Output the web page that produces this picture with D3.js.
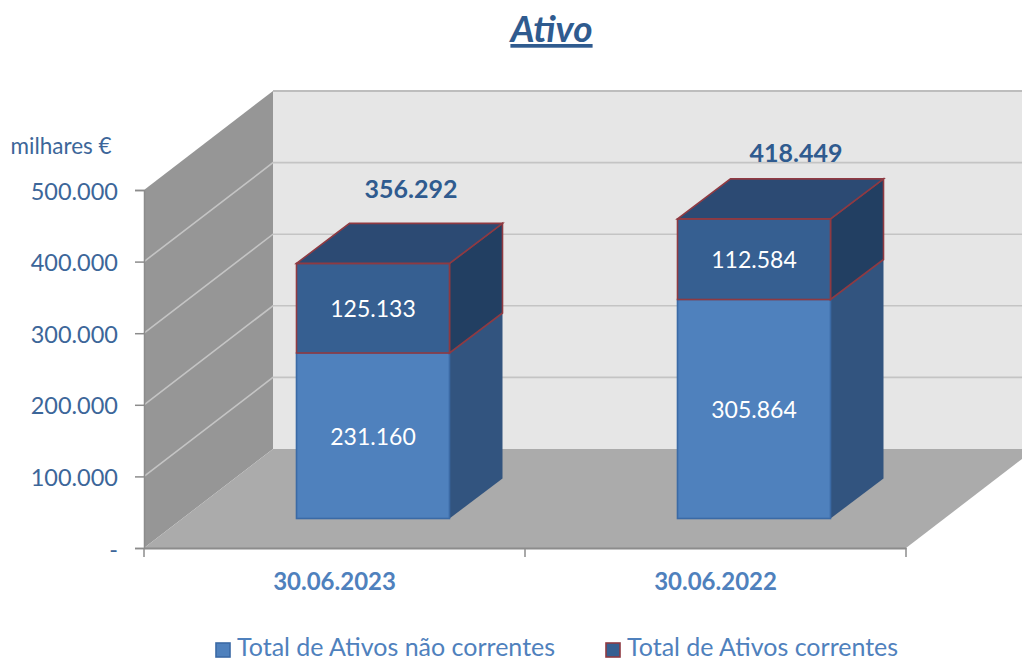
<!DOCTYPE html>
<html>
<head>
<meta charset="utf-8">
<script src="https://cdn.jsdelivr.net/npm/d3@7"></script>
<style>
  html, body { margin: 0; padding: 0; background: #fff; }
  svg { display: block; font-family: Lato, "Open Sans", sans-serif; }
</style>
</head>
<body>
<div id="chart"></div>
<script>
const categories = ['30.06.2023', '30.06.2022'];
const naoCorrentes = [231160, 305864];
const correntes = [125133, 112584];
const totals = [356292, 418449];
const seriesNames = ['Total de Ativos não correntes', 'Total de Ativos correntes'];
const yTicks = [0, 100000, 200000, 300000, 400000, 500000];

const width = 1022, height = 661;
// 3d look: every thing is offset from the front plane by these
const wallDx = 129, wallDy = -99;
const barInsetDx = 38.5, barInsetDy = -29.5;
const barDx = 53, barDy = -40;
const barW = 153;

const svg = d3.select('#chart').append('svg')
  .attr('width', width)
  .attr('height', height);

const x = d3.scaleBand().domain(categories).range([144, 906]);
const y = d3.scaleLinear().domain([0, 500000]).range([548, 190]);
const fmt = d => d === 0 ? '-' : d3.format(',')(d).replace(/,/g, '.');
const poly = pts => 'M' + pts.map(p => p.join(',')).join('L') + 'Z';

svg.append('text')
  .attr('x', 551.5).attr('y', 42)
  .attr('text-anchor', 'middle')
  .attr('font-size', 37).attr('font-weight', 700).attr('font-style', 'italic')
  .attr('text-decoration', 'underline')
  .attr('fill', '#2f5b8f')
  .text('Ativo');

const x0 = x.range()[0], x1 = x.range()[1];
const yTop = y(500000), yBase = y(0);

// back wall
svg.append('path')
  .attr('d', poly([[x0 + wallDx, yTop + wallDy], [width, yTop + wallDy], [width, yBase + wallDy], [x0 + wallDx, yBase + wallDy]]))
  .attr('fill', '#e6e6e6');
svg.append('line')
  .attr('x1', x0 + wallDx).attr('x2', width)
  .attr('y1', yTop + wallDy).attr('y2', yTop + wallDy)
  .attr('stroke', '#bdbdbd').attr('stroke-width', 2);

// left wall
svg.append('path')
  .attr('d', poly([[x0, yTop], [x0 + wallDx, yTop + wallDy], [x0 + wallDx, yBase + wallDy], [x0, yBase]]))
  .attr('fill', '#969696');

// floor
svg.append('path')
  .attr('d', poly([[x0, yBase], [x0 + wallDx, yBase + wallDy], [x1 + wallDx, yBase + wallDy], [x1, yBase]]))
  .attr('fill', '#ababab');

// grid lines, wall and side
const grid = svg.append('g').attr('fill', 'none').attr('stroke', '#c4c4c4').attr('stroke-width', 1.6);
yTicks.slice(1, 5).forEach(t => {
  grid.append('path').attr('d', 'M' + x0 + ',' + y(t) + 'L' + (x0 + wallDx) + ',' + (y(t) + wallDy) + 'L' + width + ',' + (y(t) + wallDy));
});

// stacked bars
const stackData = categories.map((c, i) => ({ cat: c, nao: naoCorrentes[i], cor: correntes[i] }));
const stacked = d3.stack().keys(['nao', 'cor'])(stackData);
const faces = [
  { front: '#4f81bd', side: '#32547f', top: '#2c4a73', stroke: '#3b6aa5', sideStroke: 'none' },
  { front: '#365f91', side: '#223f62', top: '#2c4a73', stroke: '#8f3a42', sideStroke: '#8f3a42' }
];

stacked.forEach((s, si) => {
  const st = faces[si];
  const g = svg.append('g').attr('class', 'series');
  s.forEach(d => {
    const left = x(d.data.cat) + (x.bandwidth() - barW) / 2 + barInsetDx;
    const right = left + barW;
    const yb = y(d[0]) + barInsetDy, yt = y(d[1]) + barInsetDy;
    // side
    g.append('path')
      .attr('d', poly([[right, yb], [right + barDx, yb + barDy], [right + barDx, yt + barDy], [right, yt]]))
      .attr('fill', st.side).attr('stroke', st.sideStroke).attr('stroke-width', 1.6);
    // front
    g.append('rect')
      .attr('x', left).attr('y', yt).attr('width', barW).attr('height', yb - yt)
      .attr('fill', st.front).attr('stroke', st.stroke).attr('stroke-width', 1.6);
    // only top segment shows its lid
    if (si === stacked.length - 1) {
      g.append('path')
        .attr('d', poly([[left, yt], [left + barDx, yt + barDy], [right + barDx, yt + barDy], [right, yt]]))
        .attr('fill', st.top).attr('stroke', st.stroke).attr('stroke-width', 1.6);
    }
    g.append('text')
      .attr('x', left + barW / 2).attr('y', (yb + yt) / 2 + 0.5)
      .attr('dy', '0.36em').attr('text-anchor', 'middle')
      .attr('font-size', 23).attr('fill', '#fff')
      .text(fmt(d[1] - d[0]));
  });
});

// totals above the bars
svg.append('g').selectAll('text').data(categories).join('text')
  .attr('x', (c, i) => x(c) + x.bandwidth() / 2 + barInsetDx + (i === 0 ? 38 : 42))
  .attr('y', (c, i) => y(totals[i]) + barInsetDy - (i === 0 ? 74.5 : 66))
  .attr('dy', '0.36em').attr('text-anchor', 'middle')
  .attr('font-size', 25).attr('font-weight', 700).attr('fill', '#2f5b8f')
  .text((c, i) => fmt(totals[i]));

// y axis
const yAxis = svg.append('g')
  .attr('transform', 'translate(' + x0 + ',0)')
  .call(d3.axisLeft(y).tickValues(yTicks).tickFormat(fmt).tickSize(9).tickPadding(17));
yAxis.select('.domain').attr('stroke', '#8c8c8c').attr('stroke-width', 1.5);
yAxis.selectAll('.tick line').attr('stroke', '#8c8c8c').attr('stroke-width', 1.5);
yAxis.selectAll('.tick text')
  .attr('y', 1.5)
  .attr('font-size', 23.5).attr('font-family', 'Lato').attr('fill', '#3c6699');

svg.append('text')
  .attr('x', 10.5).attr('y', 154)
  .attr('font-size', 22.5).attr('fill', '#3c6699')
  .text('milhares €');

// x axis, labels on band centres and ticks on band edges
const xAxis = svg.append('g')
  .attr('transform', 'translate(0,' + yBase + ')')
  .call(d3.axisBottom(x).tickSize(0).tickPadding(25));
xAxis.select('.domain').attr('stroke', '#8c8c8c').attr('stroke-width', 2);
xAxis.selectAll('.tick text')
  .attr('font-size', 24).attr('font-weight', 700).attr('font-family', 'Lato').attr('fill', '#4f81bd');
xAxis.selectAll('.edge').data([x0, x(categories[1]), x1]).join('line')
  .attr('class', 'edge')
  .attr('x1', d => d).attr('x2', d => d)
  .attr('y1', 0).attr('y2', 9)
  .attr('stroke', '#8c8c8c').attr('stroke-width', 1.5);

// legend
const legendX = [216, 606];
const legend = svg.append('g').selectAll('g').data(seriesNames).join('g')
  .attr('transform', (d, i) => 'translate(' + legendX[i] + ',643)');
legend.append('rect')
  .attr('width', 14).attr('height', 14)
  .attr('fill', (d, i) => faces[i].front)
  .attr('stroke', (d, i) => faces[i].stroke).attr('stroke-width', 1.6);
legend.append('text')
  .attr('x', 21).attr('y', 13)
  .attr('font-size', 25).attr('fill', '#4f81bd')
  .text(d => d);
</script>
</body>
</html>
